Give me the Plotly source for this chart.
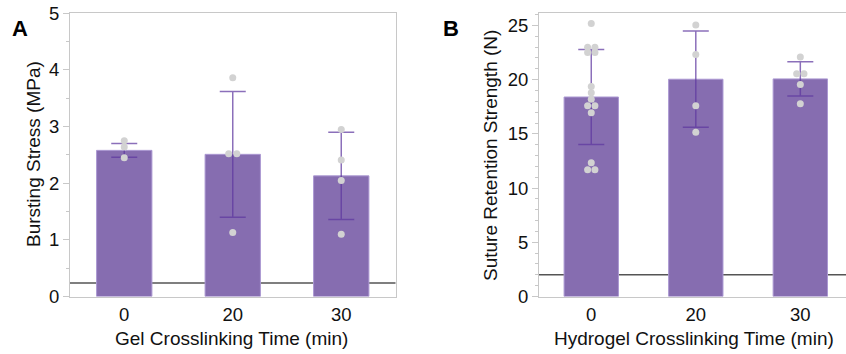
import plotly.graph_objects as go

# ---------------- data ----------------
categories = ["0", "20", "30"]

# Panel A: bursting stress (MPa)
burst_mean = [2.58, 2.51, 2.13]
burst_sd = [0.12, 1.11, 0.77]
burst_points = [
    [2.75, 2.64, 2.45],
    [3.86, 2.52, 2.52, 1.13],
    [2.95, 2.41, 2.05, 1.10],
]
burst_threshold = 0.24

# Panel B: suture retention strength (N)
suture_mean = [18.40, 20.04, 20.07]
suture_sd = [4.38, 4.44, 1.58]
suture_points = [
    [25.17, 23.0, 23.0, 22.5, 22.5, 19.36, 18.8, 18.2, 17.6, 17.6, 16.95, 12.33, 11.7, 11.7],
    [25.05, 22.33, 17.6, 15.16],
    [22.08, 20.55, 20.55, 19.55, 17.78],
]
suture_threshold = 2.0

# ---------------- style ----------------
BAR = "#866db0"
BAR_EDGE = "#ab98d2"
ERR = "rgba(94,56,160,0.72)"
DOT = "#d2d2d2"
AXIS = "#c8c8c8"
FONT = "Liberation Sans, Arial, Helvetica, sans-serif"
W, H = 846, 354


def dodge(groups, step):
    xs, ys = [], []
    for i, vals in enumerate(groups):
        counts = {}
        for v in vals:
            counts[round(v, 3)] = counts.get(round(v, 3), 0) + 1
        seen = {}
        for v in vals:
            k = round(v, 3)
            n = counts[k]
            j = seen.get(k, 0)
            seen[k] = j + 1
            off = (j - (n - 1) / 2) * step
            xs.append(i + off)
            ys.append(v)
    return xs, ys


fig = go.Figure()
idx = list(range(len(categories)))

# Panel A
fig.add_trace(go.Bar(
    x=idx, y=burst_mean, width=0.51,
    marker=dict(color=BAR, line=dict(color=BAR_EDGE, width=1)),
    error_y=dict(type="data", array=burst_sd, visible=True, color=ERR, thickness=1.5, width=13),
    xaxis="x", yaxis="y", showlegend=False, hoverinfo="skip"))
ax, ay = dodge(burst_points, 0.075)
fig.add_trace(go.Scatter(
    x=ax, y=ay, mode="markers", marker=dict(color=DOT, size=7),
    xaxis="x", yaxis="y", showlegend=False, hoverinfo="skip"))

# Panel B
fig.add_trace(go.Bar(
    x=idx, y=suture_mean, width=0.52,
    marker=dict(color=BAR, line=dict(color=BAR_EDGE, width=1)),
    error_y=dict(type="data", array=suture_sd, visible=True, color=ERR, thickness=1.5, width=13),
    xaxis="x2", yaxis="y2", showlegend=False, hoverinfo="skip"))
bx, by = dodge(suture_points, 0.07)
fig.add_trace(go.Scatter(
    x=bx, y=by, mode="markers", marker=dict(color=DOT, size=7),
    xaxis="x2", yaxis="y2", showlegend=False, hoverinfo="skip"))

ydom = [57.5 / H, 1 - 13.3 / H]
tickfont = dict(family=FONT, size=18.5, color="#111")


def ann(text, x, y, size=19, angle=0, bold=False):
    return dict(text=f"<b>{text}</b>" if bold else text, x=x / W, y=1 - y / H,
                xref="paper", yref="paper", xanchor="center", yanchor="middle",
                textangle=angle, showarrow=False,
                font=dict(size=size, family=FONT, color="#000" if bold else "#111"))


fig.update_layout(
    width=W, height=H,
    margin=dict(l=0, r=0, t=0, b=0, autoexpand=False),
    paper_bgcolor="white", plot_bgcolor="white",
    font=dict(family=FONT, color="#111"),
    xaxis=dict(domain=[70 / W, 395.5 / W], range=[-0.5, 2.5], automargin=False,
               tickvals=idx, ticktext=categories, ticks="", showgrid=False,
               showline=True, linecolor=AXIS, linewidth=1, mirror=True,
               zeroline=False, tickfont=tickfont, ticklabelstandoff=1),
    yaxis=dict(domain=ydom, range=[0, 5], tickvals=[0, 1, 2, 3, 4, 5], automargin=False,
               ticks="outside", ticklen=6, tickcolor=AXIS, tickwidth=1,
               minor=dict(dtick=0.5, ticks="outside", ticklen=3, tickcolor=AXIS),
               showgrid=False, showline=True, linecolor=AXIS, linewidth=1,
               mirror=True, zeroline=False, tickfont=tickfont),
    xaxis2=dict(domain=[539 / W, 1.0], range=[-0.5, 2.437], automargin=False,
                tickvals=idx, ticktext=categories, ticks="", showgrid=False,
                showline=True, linecolor=AXIS, linewidth=1, mirror=True,
                zeroline=False, tickfont=tickfont, anchor="y2", ticklabelstandoff=1),
    yaxis2=dict(domain=ydom, range=[0, 26.12], tickvals=[0, 5, 10, 15, 20, 25],
                automargin=False,
                ticks="outside", ticklen=6, tickcolor=AXIS, tickwidth=1,
                minor=dict(dtick=1, ticks="outside", ticklen=3, tickcolor=AXIS),
                showgrid=False, showline=True, linecolor=AXIS, linewidth=1,
                mirror=False, zeroline=False, tickfont=tickfont, anchor="x2"),
    shapes=[
        dict(type="line", xref="x domain", yref="y", x0=0, x1=1,
             y0=burst_threshold, y1=burst_threshold,
             line=dict(color="#555", width=1.5), layer="below"),
        dict(type="line", xref="x2 domain", yref="y2", x0=0, x1=1,
             y0=suture_threshold, y1=suture_threshold,
             line=dict(color="#555", width=1.5), layer="below"),
    ],
    annotations=[
        ann("A", 20, 28, size=22, bold=True),
        ann("B", 451, 29, size=22, bold=True),
        ann("Bursting Stress (MPa)", 33, 154, angle=-90),
        ann("Suture Retention Strength (N)", 491, 156, angle=-90),
        ann("Gel Crosslinking Time (min)", 231.5, 338),
        ann("Hydrogel Crosslinking Time (min)", 694, 338),
    ],
)

fig.write_html("out.html", config={"displayModeBar": False},
               post_script="document.body.style.margin='0';document.body.style.overflow='hidden';")
